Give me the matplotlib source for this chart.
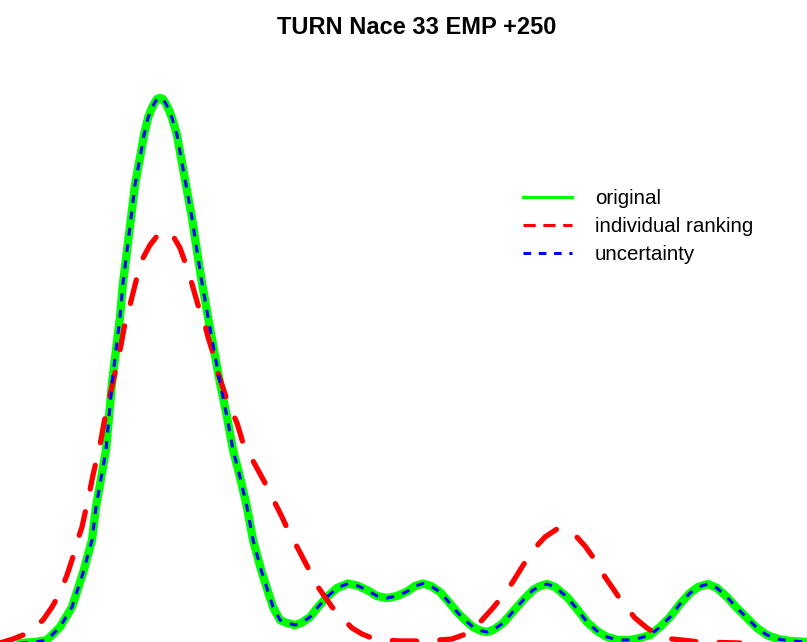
import numpy as np
import matplotlib
matplotlib.use("Agg")
import matplotlib.pyplot as plt
from matplotlib.lines import Line2D

plt.rcParams["font.family"] = ["Liberation Sans", "DejaVu Sans"]

# --- Data ---
title = "TURN Nace 33 EMP +250"
labels = ["original", "individual ranking", "uncertainty"]

original_x = [0.00, 0.20, 0.35, 0.47, 0.60, 0.72, 0.83, 0.92, 0.96, 1.02,
              1.06, 1.09, 1.12, 1.16, 1.20, 1.23, 1.27, 1.31, 1.35, 1.41,
              1.44, 1.48, 1.51, 1.54, 1.57, 1.60, 1.63, 1.66, 1.69, 1.72,
              1.77, 1.80, 1.86, 1.92,
              1.97, 2.02, 2.08, 2.14, 2.20, 2.27, 2.33, 2.39, 2.47, 2.53,
              2.62, 2.73, 2.80, 2.87, 2.95, 3.02, 3.10, 3.18, 3.27, 3.37,
              3.48, 3.57, 3.67, 3.77, 3.87, 3.97, 4.07, 4.15, 4.23, 4.31,
              4.40, 4.48, 4.57, 4.65, 4.73, 4.80, 4.87, 4.94, 5.03, 5.17,
              5.25, 5.33, 5.40, 5.47, 5.55, 5.67, 5.77, 5.87, 5.97, 6.07,
              6.18, 6.30, 6.40, 6.50, 6.60, 6.70, 6.80, 6.90, 6.98, 7.08,
              7.17, 7.27, 7.37, 7.47, 7.57, 7.67, 7.78, 7.90, 8.07]
original_y = [0.001, 0.002, 0.003, 0.005, 0.018, 0.038, 0.072, 0.105, 0.138, 0.172,
              0.195, 0.228, 0.262, 0.295, 0.328, 0.362, 0.394, 0.427, 0.460, 0.493,
              0.510, 0.527, 0.535, 0.541, 0.546, 0.547, 0.546, 0.541, 0.535, 0.527,
              0.510, 0.493, 0.460, 0.427,
              0.394, 0.362, 0.328, 0.295, 0.262, 0.228, 0.195, 0.172, 0.138, 0.105,
              0.072, 0.038, 0.025, 0.022, 0.020, 0.0225, 0.028, 0.038, 0.048, 0.057,
              0.0615, 0.0595, 0.055, 0.049, 0.047, 0.049, 0.0535, 0.059, 0.0615, 0.059,
              0.053, 0.044, 0.033, 0.025, 0.018, 0.0145, 0.013, 0.0155, 0.022, 0.038,
              0.047, 0.055, 0.059, 0.061, 0.058, 0.048, 0.036, 0.023, 0.014, 0.008,
              0.005, 0.005, 0.007, 0.010, 0.018, 0.028, 0.041, 0.052, 0.058, 0.061,
              0.057, 0.048, 0.037, 0.027, 0.017, 0.010, 0.006, 0.004, 0.003]

ranking_x = [0.00, 0.13, 0.28, 0.43, 0.52, 0.60, 0.67, 0.72, 0.76, 0.82,
             0.89, 0.93, 1.00, 1.04, 1.10, 1.15, 1.21, 1.25, 1.30, 1.33,
             1.38, 1.43, 1.50, 1.57, 1.65, 1.73, 1.80, 1.85, 1.90, 1.98,
             2.05, 2.08, 2.13, 2.18, 2.23, 2.28, 2.37, 2.43, 2.48, 2.58,
             2.65, 2.72, 2.82, 2.88, 2.95, 3.05, 3.18, 3.32, 3.42, 3.52,
             3.62, 3.72, 3.85, 4.00, 4.25, 4.52, 4.63, 4.73, 4.82, 4.92,
             5.06, 5.14, 5.22, 5.33, 5.45, 5.57, 5.66, 5.75, 5.85, 5.95,
             6.05, 6.14, 6.22, 6.35, 6.47, 6.60, 6.72, 6.82, 7.00, 7.40,
             8.07]
ranking_y = [0.002, 0.006, 0.012, 0.025, 0.038, 0.052, 0.070, 0.085, 0.100, 0.118,
             0.150, 0.170, 0.200, 0.222, 0.250, 0.272, 0.300, 0.322, 0.340, 0.352,
             0.372, 0.387, 0.400, 0.409, 0.414, 0.409, 0.397, 0.383, 0.368, 0.340,
             0.320, 0.308, 0.292, 0.272, 0.257, 0.242, 0.222, 0.202, 0.193, 0.175,
             0.162, 0.148, 0.128, 0.115, 0.102, 0.083, 0.058, 0.038, 0.027, 0.017,
             0.011, 0.007, 0.005, 0.004, 0.004, 0.006, 0.010, 0.015, 0.025, 0.036,
             0.053, 0.065, 0.078, 0.095, 0.108, 0.116, 0.115, 0.110, 0.099, 0.085,
             0.068, 0.055, 0.043, 0.027, 0.017, 0.009, 0.006, 0.005, 0.003, 0.002,
             0.001]

# uncertainty curve coincides with the original one
uncertainty_x = list(original_x)
uncertainty_y = list(original_y)

# --- Plotting ---
fig = plt.figure(figsize=(8.07, 6.42), dpi=100)
ax = fig.add_axes([0, 0, 1, 1])
ax.set_axis_off()

ax.plot(original_x, original_y, color="#00ff00", lw=6.0,
        solid_capstyle="round", solid_joinstyle="round")
ax.plot(ranking_x, ranking_y, color="#ff0000", lw=3.8,
        dashes=(4.6, 4.4), dash_capstyle="round", dash_joinstyle="round")
ax.plot(uncertainty_x, uncertainty_y, color="#0000ff", lw=2.2,
        dashes=(2.6, 2.8), dash_capstyle="butt")

ax.set_xlim(0, 8.07)
ax.set_ylim(0.003, 0.645)

fig.text(417 / 807, 1 - 28 / 642, title, ha="center", va="center",
         fontsize=17, fontweight="bold")

handles = [
    Line2D([], [], color="#00ff00", lw=2.2),
    Line2D([], [], color="#ff0000", lw=2.2, dashes=(4, 2.5)),
    Line2D([], [], color="#0000ff", lw=2.2, dashes=(2.5, 2.5)),
]
fig.legend(handles, labels, loc="upper left", bbox_to_anchor=(523 / 807, 1 - 189 / 642),
           frameon=False, fontsize=14.8, handlelength=2.4, handletextpad=1.1,
           labelspacing=0.44, borderpad=0, borderaxespad=0)

plt.savefig("out.png", dpi=100)
plt.close()
